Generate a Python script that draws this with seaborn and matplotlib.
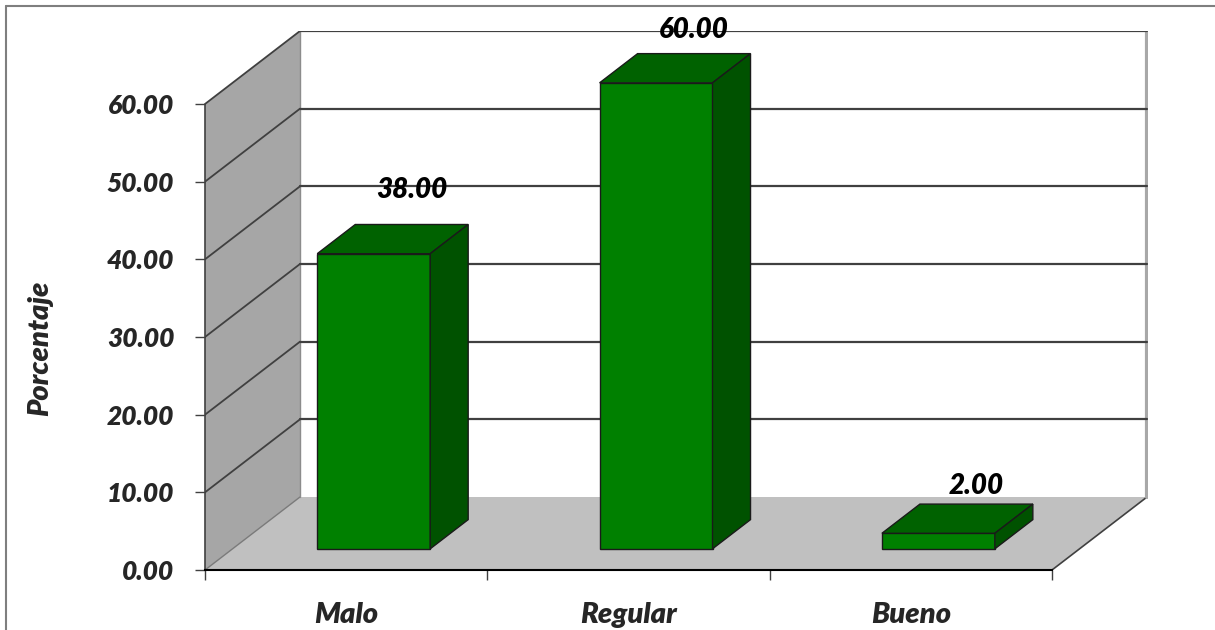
import numpy as np
import matplotlib
matplotlib.use("Agg")
import matplotlib.pyplot as plt
from matplotlib.patches import Polygon
from matplotlib.lines import Line2D
import seaborn as sns

# ---- data ----
categories = ["Malo", "Regular", "Bueno"]
percentages = [38.0, 60.0, 2.0]
y_ticks = [0, 10, 20, 30, 40, 50, 60]
y_label = "Porcentaje"

# ---- style ----
sns.set_theme(style="white")
plt.rcParams["font.family"] = ["Lato", "DejaVu Sans"]
plt.rcParams["font.weight"] = "heavy"
plt.rcParams["font.style"] = "italic"

FRONT = "#008000"
TOP = "#006200"
SIDE = "#005200"
EDGE = "#1a1a1a"
WALL = "#a6a6a6"
FLOOR = "#c0c0c0"
GRID = "#404040"
FS = 19
WEIGHT = "heavy"

W, H, DPI = 1215, 630, 100
fig = plt.figure(figsize=(W / DPI, H / DPI), dpi=DPI)
fig.patch.set_facecolor("white")

# plot box in pixels: front face 205..1052 x 570..104, back wall shifted up/right
left_px, right_px, bottom_px, top_px = 205, 1148, 570, 31
ax = fig.add_axes([left_px / W, 1 - bottom_px / H,
                   (right_px - left_px) / W, (bottom_px - top_px) / H])
ax.set_facecolor("white")

n = len(categories)
ymax = y_ticks[-1]
px_x = (1052 - 205) / n
px_y = (570 - 104) / ymax
ddx = 95 / px_x          # depth offset in data units (x)
ddy = 73 / px_y          # depth offset in data units (y)

# ---- bars (front faces) ----
sns.barplot(x=categories, y=percentages, ax=ax, width=0.4, color=FRONT,
            saturation=1, edgecolor=EDGE, linewidth=1, zorder=3)
bars = list(ax.patches)

ax.set_xlim(-0.5, -0.5 + (right_px - left_px) / px_x)
ax.set_ylim(0, (bottom_px - top_px) / px_y)

x0, x1 = -0.5, n - 0.5

# ---- walls and floor ----
ax.add_patch(Polygon([(x0, 0), (x0, ymax), (x0 + ddx, ymax + ddy), (x0 + ddx, ddy)],
                     closed=True, fc=WALL, ec="none", zorder=0))
ax.add_patch(Polygon([(x0, 0), (x1, 0), (x1 + ddx, ddy), (x0 + ddx, ddy)],
                     closed=True, fc=FLOOR, ec="none", zorder=0))
ax.plot([x0, x0 + ddx], [0, ddy], color="#7a7a7a", lw=1, zorder=1)
ax.plot([x1, x1 + ddx], [0, ddy], color=GRID, lw=1.2, zorder=1)
ax.plot([x0 + ddx, x0 + ddx], [ddy, ymax + ddy], color="#8c8c8c", lw=1, zorder=1)
ax.plot([x1 + ddx, x1 + ddx], [ddy, ymax + ddy], color="#a8a8a8", lw=3, zorder=1)

for v in y_ticks[1:]:
    ax.plot([x0, x0 + ddx], [v, v + ddy], color=GRID, lw=1.3, zorder=1)
    ax.plot([x0 + ddx, x1 + ddx], [v + ddy, v + ddy], color=GRID, lw=1.6, zorder=1)

# ---- 3D bar blocks ----
f_front, f_back = 0.29, 0.69
bdx = (f_back - f_front) * ddx
bdy = (f_back - f_front) * ddy
label_lift = [34, 24, 18]
for bar, val, lift in zip(bars, percentages, label_lift):
    bar.set_x(bar.get_x() + f_front * ddx)
    bar.set_y(f_front * ddy)
    bx0 = bar.get_x()
    bx1 = bx0 + bar.get_width()
    yb = bar.get_y()
    yt = yb + bar.get_height()
    ax.add_patch(Polygon([(bx0, yt), (bx1, yt), (bx1 + bdx, yt + bdy), (bx0 + bdx, yt + bdy)],
                         closed=True, fc=TOP, ec=EDGE, lw=1, zorder=3))
    ax.add_patch(Polygon([(bx1, yb), (bx1, yt), (bx1 + bdx, yt + bdy), (bx1 + bdx, yb + bdy)],
                         closed=True, fc=SIDE, ec=EDGE, lw=1, zorder=3))
    ax.annotate(f"{val:.2f}", xy=((bx0 + bx1) / 2 + bdx, yt + bdy),
                xytext=(0, lift), textcoords="offset pixels",
                ha="center", va="center", fontsize=20, fontweight=WEIGHT,
                fontstyle="italic", color="black", annotation_clip=False, zorder=5)

# ---- axes ----
for s in ("top", "right"):
    ax.spines[s].set_visible(False)
ax.spines["left"].set_bounds(0, ymax)
ax.spines["left"].set_color(GRID)
ax.spines["left"].set_linewidth(1.2)
ax.spines["left"].set_zorder(2)
ax.spines["bottom"].set_bounds(x0, x1)
ax.spines["bottom"].set_color("black")
ax.spines["bottom"].set_linewidth(1.5)

ax.set_yticks(y_ticks)
ax.set_yticklabels([f"{t:.2f}" for t in y_ticks])
ax.tick_params(axis="y", direction="out", length=7.2, width=1, color=GRID,
               pad=15, labelsize=FS, left=True)

ax.set_xticks(np.arange(n + 1) - 0.5)
ax.set_xticklabels([""] * (n + 1))
ax.set_xticks(np.arange(n), minor=True)
ax.set_xticklabels(categories, minor=True)
ax.tick_params(axis="x", which="major", direction="out", length=7.2, width=1,
               color=GRID, bottom=True)
ax.tick_params(axis="x", which="minor", length=0, pad=23, labelsize=21)
ax.set_xlabel("")

ax.set_ylabel(y_label, fontsize=21, fontweight=WEIGHT, fontstyle="italic")
ax.yaxis.label.set_verticalalignment("center")
ax.yaxis.set_label_coords((40 - left_px) / (right_px - left_px),
                          (bottom_px - 348) / (bottom_px - top_px))

for lab in ax.get_xticklabels(minor=True) + ax.get_yticklabels():
    lab.set_fontweight(WEIGHT)
    lab.set_fontstyle("italic")

# ---- chart frame ----
fig.add_artist(Line2D([6 / W, 1], [1 - 6 / H, 1 - 6 / H], transform=fig.transFigure,
                      color="#7f7f7f", lw=1.5))
fig.add_artist(Line2D([6 / W, 6 / W], [0, 1 - 6 / H], transform=fig.transFigure,
                      color="#7f7f7f", lw=1.5))

fig.savefig("out.png", dpi=DPI)
